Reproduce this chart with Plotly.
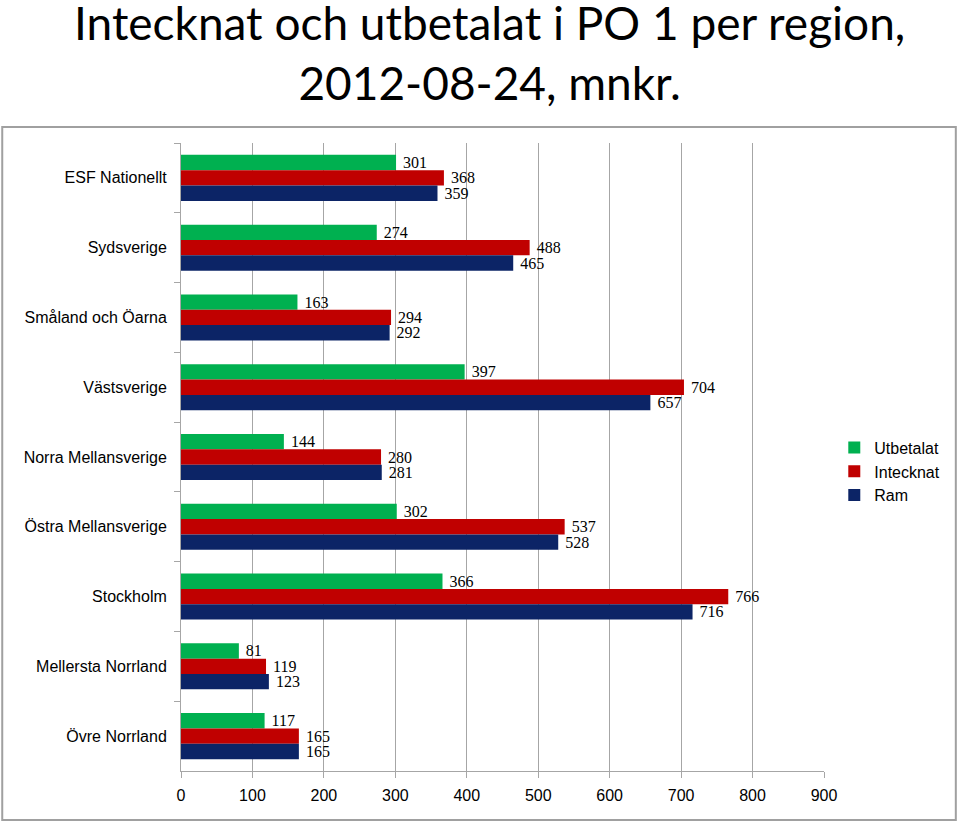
import plotly.graph_objects as go

regions = ["ESF Nationellt", "Sydsverige", "Småland och Öarna", "Västsverige",
           "Norra Mellansverige", "Östra Mellansverige", "Stockholm",
           "Mellersta Norrland", "Övre Norrland"]
utbetalat = [301, 274, 163, 397, 144, 302, 366, 81, 117]
intecknat = [368, 488, 294, 704, 280, 537, 766, 119, 165]
ram = [359, 465, 292, 657, 281, 528, 716, 123, 165]
series_names = ["Utbetalat", "Intecknat", "Ram"]
series_colors = ["#00B050", "#C00000", "#0C2466"]
x_ticks = [0, 100, 200, 300, 400, 500, 600, 700, 800, 900]
title_text = "Intecknat och utbetalat i PO 1 per region,<br>2012-08-24, mnkr."

fig = go.Figure()
for name, vals, col in zip(series_names, [utbetalat, intecknat, ram], series_colors):
    fig.add_trace(go.Bar(
        y=regions, x=vals, name=name, orientation="h", legendgroup=name,
        marker=dict(color=col, line=dict(width=0)),
        text=["\u00a0" + str(v) for v in vals], textposition="outside",
        constraintext="none", cliponaxis=False,
        textfont=dict(family="Liberation Serif, DejaVu Serif, serif", size=16, color="#000"),
    ))

fig.update_layout(
    width=960, height=824,
    margin=dict(l=181, r=136, t=143, b=53, autoexpand=False),
    paper_bgcolor="white", plot_bgcolor="white",
    barmode="group", bargap=0.34, bargroupgap=0,
    legend=dict(
        x=1.016, xanchor="left", y=0.542, yanchor="top", traceorder="normal",
        tracegroupgap=10, itemwidth=30,
        font=dict(family="Liberation Sans, Arial, sans-serif", size=16, color="#000"),
        bgcolor="rgba(0,0,0,0)",
    ),
    annotations=[dict(
        text=title_text, xref="paper", yref="paper", x=0.48, y=1.144,
        xanchor="center", yanchor="middle", showarrow=False, align="center",
        font=dict(family="Lato, Carlito, sans-serif", size=46, color="#000"),
    )],
    xaxis=dict(
        range=[0, 900], tickvals=x_ticks, ticktext=[str(t) for t in x_ticks],
        showgrid=True, gridcolor="#A6A6A6", gridwidth=1,
        showline=True, linecolor="#A6A6A6", linewidth=1,
        ticks="outside", ticklen=6, tickcolor="#A6A6A6", ticklabelstandoff=4,
        tickfont=dict(family="Liberation Sans, Arial, sans-serif", size=16, color="#000"),
        zeroline=False, fixedrange=True, automargin=False,
    ),
    yaxis=dict(
        autorange="reversed", type="category",
        showline=True, linecolor="#A6A6A6", linewidth=1,
        ticks="outside", ticklen=6, tickcolor="#A6A6A6", tickson="boundaries",
        tickfont=dict(family="Liberation Sans, Arial, sans-serif", size=16, color="#000"),
        ticklabelstandoff=10, showgrid=False, fixedrange=True, automargin=False,
    ),
    shapes=[dict(type="rect", xref="paper", yref="paper",
                 x0=-0.278, x1=1.205, y0=-0.078, y1=1.0255,
                 line=dict(color="#A0A0A0", width=2), fillcolor="rgba(0,0,0,0)", layer="below")],
)

fig.write_html("out.html", config={"displayModeBar": False},
               post_script="document.body.style.margin='0';document.body.style.overflow='hidden';")
